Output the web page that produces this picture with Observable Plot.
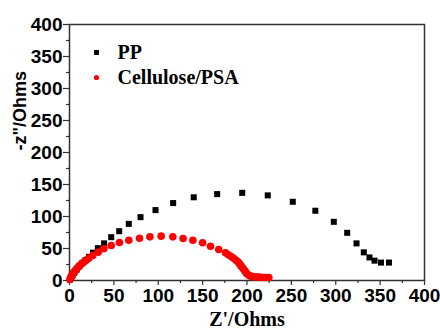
<!DOCTYPE html>
<html>
<head>
<meta charset="utf-8">
<script src="https://cdn.jsdelivr.net/npm/d3@7"></script>
<script src="https://cdn.jsdelivr.net/npm/@observablehq/plot@0.6"></script>
<style>
  html, body { margin: 0; padding: 0; background: #fff; }
</style>
</head>
<body>
<div id="chart"></div>
<script>
// Series names (legend)
const seriesNames = ["PP", "Cellulose/PSA"];

// PP (black squares): Z' and -Z''
const ppZre = [0.5, 2, 3.5, 5.5, 8, 11, 14.5, 18, 22, 26.5, 32, 39, 47, 56, 66.8, 80, 96.9, 116.8, 140, 166.4, 194.6, 223.4, 251.6, 277, 297.8, 312.9, 323.4, 331.6, 338, 343.7, 351, 360];
const ppZim = [1.5, 4, 8, 12, 17, 22, 27, 31.5, 37, 43.5, 50.5, 58, 67.7, 77, 88.5, 99, 110, 121, 130, 135, 137, 133, 123, 109, 91.7, 74.5, 58, 44, 36, 31, 28, 28];

// Cellulose/PSA (red circles): Z' and -Z''
const cpZre = [0.5, 1.1, 2, 3, 4.2, 5.6, 7, 8.6, 10.4, 12.4, 14.7, 17.2, 19.4, 21.8, 26.3, 32.3, 38.7, 47, 56.3, 66.8, 78.9, 90.6, 103.3, 116.4, 128, 139, 150, 158.9, 168.2, 175.8, 179, 182, 184.5, 187, 189, 190.8, 192.2, 193.4, 195, 196.4, 198, 199.4, 201, 203, 205.3, 207.7, 210.3, 213, 216, 219, 221.8, 224.6];
const cpZim = [1.5, 4, 6.5, 9, 11.5, 14, 16.5, 19, 21.8, 24.5, 27.3, 30, 32.5, 34.9, 39, 44.3, 49.5, 54.7, 59.4, 63, 66, 68.2, 69.3, 68.2, 65.6, 63, 58.9, 53.6, 48.4, 43.2, 40.3, 37.5, 35, 32.3, 30, 27.6, 25, 22.4, 19.8, 17.2, 14.2, 11.4, 9.2, 7.3, 6.4, 5.8, 5.5, 5.2, 5, 4.7, 4.7, 4.7];

// Axis ticks and labels
const majorTicks = [0, 50, 100, 150, 200, 250, 300, 350, 400];
const minorTicks = [25, 75, 125, 175, 225, 275, 325, 375];
const xLabel = "Z'/Ohms";
const yLabel = "-z\"/Ohms";

const pp = ppZre.map((x, i) => ({x, y: ppZim[i]}));
const cp = cpZre.map((x, i) => ({x, y: cpZim[i]}));

const axisFont = {fontSize: 19, fontWeight: "bold", fontFamily: "Liberation Sans, Arial, sans-serif"};
const serif = "Liberation Serif, Times New Roman, serif";

const chart = Plot.plot({
  width: 440,
  height: 331,
  marginLeft: 69,
  marginRight: 16,
  marginTop: 24,
  marginBottom: 51,
  style: {background: "#fff", color: "#000", overflow: "visible"},
  x: {domain: [0, 400]},
  y: {domain: [0, 400]},
  marks: [
    Plot.axisX({ticks: minorTicks, tickSize: 3, tickFormat: () => "", label: null, stroke: "#333", strokeWidth: 1.2}),
    Plot.axisX({ticks: majorTicks, tickSize: 5, tickPadding: 3, label: null, stroke: "#333", strokeWidth: 1.2, ...axisFont}),
    Plot.axisY({ticks: minorTicks, tickSize: 3, tickFormat: () => "", label: null, stroke: "#333", strokeWidth: 1.2}),
    Plot.axisY({ticks: majorTicks, tickSize: 6, tickPadding: 1, label: null, stroke: "#333", strokeWidth: 1.2, ...axisFont}),
    Plot.frame({stroke: "#333", strokeWidth: 1.5}),
    Plot.dot(pp, {x: "x", y: "y", symbol: "square", r: 3.4, fill: "#000", stroke: "none"}),
    Plot.dot(cp, {x: "x", y: "y", symbol: "circle", r: 3.8, fill: "#ff0000", stroke: "none"}),
    // legend
    Plot.dot([seriesNames[0]], {frameAnchor: "top-left", dx: 27, dy: 28, symbol: "square", r: 2.8, fill: "#000", stroke: "none"}),
    Plot.dot([seriesNames[1]], {frameAnchor: "top-left", dx: 27, dy: 53, symbol: "circle", r: 2.6, fill: "#ff0000", stroke: "none"}),
    Plot.text([seriesNames[0]], {frameAnchor: "top-left", dx: 48, dy: 28, textAnchor: "start", lineAnchor: "middle", fontSize: 20, fontWeight: "bold", fontFamily: serif, fill: "#000"}),
    Plot.text([seriesNames[1]], {frameAnchor: "top-left", dx: 48, dy: 53, textAnchor: "start", lineAnchor: "middle", fontSize: 20, fontWeight: "bold", fontFamily: serif, fill: "#000"}),
    // axis titles
    Plot.text([xLabel], {frameAnchor: "bottom", dy: 39, lineAnchor: "middle", fontSize: 20, fontWeight: "bold", fontFamily: serif, fill: "#000"}),
    Plot.text([yLabel], {frameAnchor: "left", dx: -49, dy: -2, rotate: -90, lineAnchor: "middle", fontSize: 18, fontWeight: "bold", fontFamily: "Liberation Sans, Arial, sans-serif", fill: "#000"})
  ]
});
document.getElementById("chart").append(chart);
</script>
</body>
</html>
